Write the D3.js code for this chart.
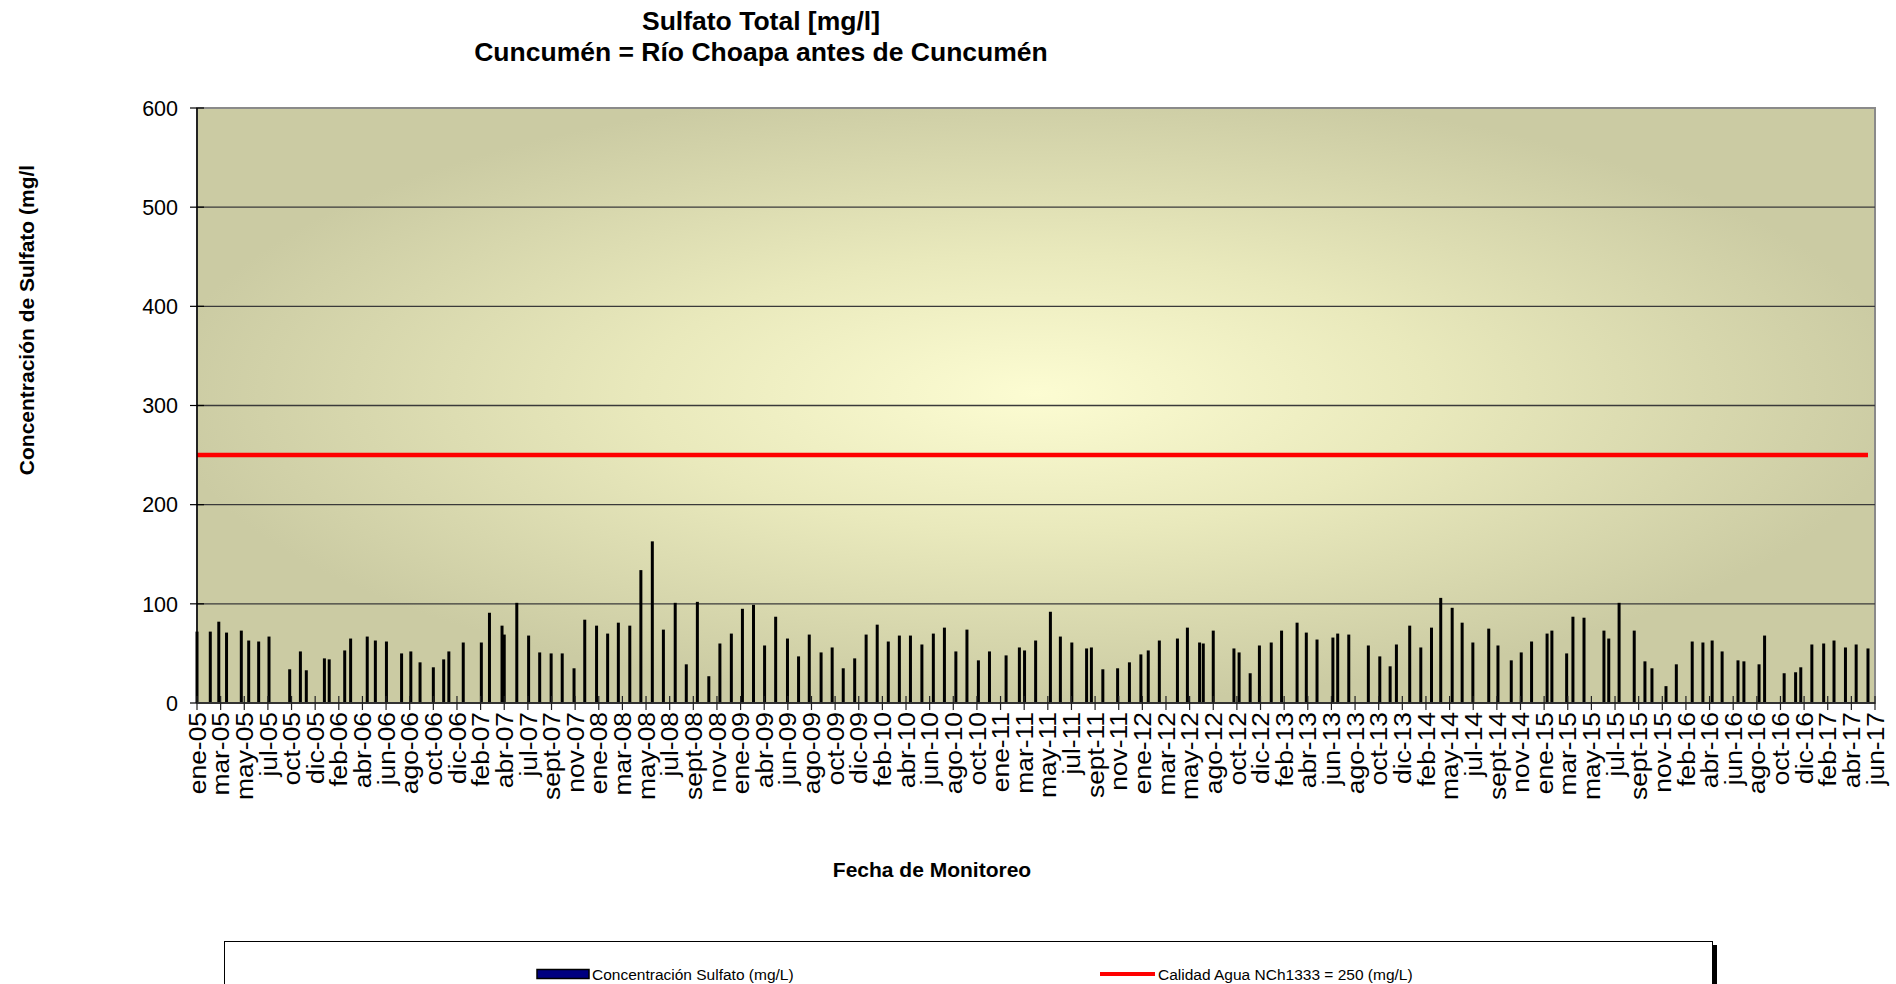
<!DOCTYPE html>
<html lang="es">
<head>
  <meta charset="UTF-8" />
  <title>Sulfato Total - Cuncumén</title>
  <script src="https://d3js.org/d3.v7.min.js"></script>
  <style>
    html, body {
      margin: 0;
      background: #fff;
      font-family: "Liberation Sans", Arial, sans-serif;
    }
    svg { display: block; }
    .grid line { stroke: #3a3a3a; stroke-width: 1.3px; }
    .bar { fill: #000; }
    .tick-label { font-size: 21.5px; fill: #000; }
    .x-label { font-size: 24px; fill: #000; }
    .axis-title { font-size: 21px; font-weight: bold; fill: #000; }
    .title { font-size: 26.5px; font-weight: bold; fill: #000; }
    .legend-text { font-size: 15.5px; fill: #000; }
  </style>
</head>
<body>
  <svg id="chart" width="1896" height="984"></svg>

  <script>
    // ----- data -----
    const sampleDates = [
      '2005-01-18','2005-02-23','2005-03-18','2005-04-08','2005-05-18','2005-06-07','2005-07-04','2005-08-01',
      '2005-09-26','2005-10-25','2005-11-10','2005-12-29','2006-01-11','2006-02-22','2006-03-10','2006-04-24',
      '2006-05-16','2006-06-15','2006-07-26','2006-08-20','2006-09-14','2006-10-20','2006-11-17','2006-12-01',
      '2007-01-09','2007-02-27','2007-03-21','2007-04-24','2007-04-30','2007-06-03','2007-07-05','2007-08-04',
      '2007-09-04','2007-10-04','2007-11-05','2007-12-04','2008-01-05','2008-02-04','2008-03-04','2008-04-04',
      '2008-05-04','2008-06-04','2008-07-04','2008-08-05','2008-09-04','2008-10-04','2008-11-04','2008-12-04',
      '2009-01-04','2009-02-03','2009-03-05','2009-04-04','2009-05-04','2009-06-05','2009-07-05','2009-08-03',
      '2009-09-04','2009-10-04','2009-11-03','2009-12-04','2010-01-04','2010-02-03','2010-03-05','2010-04-04',
      '2010-05-04','2010-06-04','2010-07-05','2010-08-04','2010-09-04','2010-10-04','2010-11-04','2010-12-04',
      '2011-01-18','2011-02-23','2011-03-09','2011-04-08','2011-05-18','2011-06-14','2011-07-15','2011-08-24',
      '2011-09-06','2011-10-07','2011-11-16','2011-12-18','2012-01-18','2012-02-07','2012-03-08','2012-04-26',
      '2012-05-23','2012-06-25','2012-07-05','2012-08-01','2012-09-26','2012-10-10','2012-11-09','2012-12-04',
      '2013-01-05','2013-02-02','2013-03-16','2013-04-10','2013-05-09','2013-06-21','2013-07-04','2013-08-03',
      '2013-09-25','2013-10-26','2013-11-23','2013-12-10','2014-01-15','2014-02-14','2014-03-15','2014-04-09',
      '2014-05-10','2014-06-06','2014-07-05','2014-08-17','2014-09-11','2014-10-17','2014-11-13','2014-12-11',
      '2015-01-22','2015-02-04','2015-03-16','2015-04-02','2015-05-02','2015-06-25','2015-07-08','2015-08-05',
      '2015-09-15','2015-10-14','2015-11-02','2015-12-10','2016-01-07','2016-02-19','2016-03-19','2016-04-13',
      '2016-05-10','2016-06-22','2016-07-08','2016-08-18','2016-09-02','2016-10-25','2016-11-25','2016-12-09',
      '2017-01-08','2017-02-09','2017-03-09','2017-04-09','2017-05-08','2017-06-09'
    ];

    const sulfato = [
      72, 72, 82, 71, 73, 63, 62, 67,
      34, 52, 33, 45, 44, 53, 65, 67,
      63, 62, 50, 52, 41, 36, 44, 52,
      61, 61, 91, 78, 69, 101, 68, 51,
      50, 50, 35, 84, 78, 70, 81, 78,
      134, 163, 74, 101, 39, 102, 27, 60,
      70, 95, 99, 58, 87, 65, 47, 69,
      51, 56, 35, 45, 69, 79, 62, 68,
      68, 59, 70, 76, 52, 74, 43, 52,
      48, 56, 53, 63, 92, 67, 61, 55,
      56, 34, 35, 41, 49, 53, 63, 65,
      76, 61, 60, 73, 55, 51, 30, 58,
      61, 73, 81, 71, 64, 66, 70, 69,
      58, 47, 37, 59, 78, 56, 76, 106,
      96, 81, 61, 75, 58, 43, 51, 62,
      70, 73, 50, 87, 86, 73, 65, 101,
      73, 42, 35, 17, 39, 62, 61, 63,
      52, 43, 42, 39, 68, 30, 31, 36,
      59, 60, 63, 56, 59, 55
    ];

    const limitValue = 250;   // NCh1333

    const axisStart = '2005-01-18';
    const axisEnd   = '2017-06-28';

    const xTickLabels = [
      'ene-05','mar-05','may-05','jul-05','oct-05','dic-05','feb-06','abr-06','jun-06','ago-06','oct-06','dic-06',
      'feb-07','abr-07','jul-07','sept-07','nov-07','ene-08','mar-08','may-08','jul-08','sept-08','nov-08','ene-09',
      'abr-09','jun-09','ago-09','oct-09','dic-09','feb-10','abr-10','jun-10','ago-10','oct-10','ene-11','mar-11',
      'may-11','jul-11','sept-11','nov-11','ene-12','mar-12','may-12','ago-12','oct-12','dic-12','feb-13','abr-13',
      'jun-13','ago-13','oct-13','dic-13','feb-14','may-14','jul-14','sept-14','nov-14','ene-15','mar-15','may-15',
      'jul-15','sept-15','nov-15','feb-16','abr-16','jun-16','ago-16','oct-16','dic-16','feb-17','abr-17','jun-17'
    ];

    const yTicks = [0, 100, 200, 300, 400, 500, 600];

    // ----- layout -----
    const svg = d3.select('#chart');
    const margin = {left: 197, top: 108, right: 21, bottom: 281};
    const W = 1896 - margin.left - margin.right;
    const H = 984 - margin.top - margin.bottom;

    const parse = d3.utcParse('%Y-%m-%d');
    const rows = sampleDates.map((d, i) => ({date: parse(d), value: sulfato[i]}));

    const x = d3.scaleUtc().domain([parse(axisStart), parse(axisEnd)]).range([0, W]);
    const y = d3.scaleLinear().domain([0, 600]).range([H, 0]);
    const xLab = d3.scalePoint().domain(xTickLabels).range([0, W]);

    // background gradient (light centre, khaki edges)
    const defs = svg.append('defs');
    const grad = defs.append('radialGradient')
      .attr('id', 'plotBg')
      .attr('cx', '50%').attr('cy', '48%').attr('r', '52%');
    grad.append('stop').attr('offset', '0%').attr('stop-color', '#fcfcd2');
    grad.append('stop').attr('offset', '45%').attr('stop-color', '#e9e9bc');
    grad.append('stop').attr('offset', '100%').attr('stop-color', '#cbcba3');

    const g = svg.append('g').attr('transform', `translate(${margin.left},${margin.top})`);

    g.append('rect')
      .attr('width', W).attr('height', H)
      .attr('fill', 'url(#plotBg)')
      .attr('stroke', '#8a8a8a').attr('stroke-width', 2);

    // gridlines
    g.append('g').attr('class', 'grid')
      .selectAll('line')
      .data(yTicks.filter(v => v > 0 && v < 600))
      .enter().append('line')
        .attr('x1', 0).attr('x2', W)
        .attr('y1', d => y(d)).attr('y2', d => y(d));

    // bars
    g.append('g')
      .selectAll('rect')
      .data(rows)
      .enter().append('rect')
        .attr('class', 'bar')
        .attr('x', d => x(d.date) - 1.5)
        .attr('width', 3)
        .attr('y', d => y(d.value))
        .attr('height', d => H - y(d.value));

    // limit line
    const limitLine = d3.line()
      .x(d => x(d.date))
      .y(() => y(limitValue));
    g.append('path')
      .datum(rows)
      .attr('d', limitLine)
      .attr('fill', 'none')
      .attr('stroke', '#ff0000')
      .attr('stroke-width', 4.5);

    // y axis
    const yAxis = g.append('g');
    yAxis.append('line')
      .attr('x1', 0).attr('x2', 0).attr('y1', 0).attr('y2', H)
      .attr('stroke', '#000').attr('stroke-width', 1.5);
    yAxis.selectAll('line.tk')
      .data(yTicks)
      .enter().append('line')
        .attr('class', 'tk')
        .attr('x1', -7).attr('x2', 7)
        .attr('y1', d => y(d)).attr('y2', d => y(d))
        .attr('stroke', '#000').attr('stroke-width', 1.2);
    yAxis.selectAll('text')
      .data(yTicks)
      .enter().append('text')
        .attr('class', 'tick-label')
        .attr('x', -19)
        .attr('y', d => y(d))
        .attr('dy', '0.36em')
        .attr('text-anchor', 'end')
        .text(d => d);

    // x axis
    const xAxis = g.append('g').attr('transform', `translate(0,${H})`);
    xAxis.append('line')
      .attr('x1', 0).attr('x2', W)
      .attr('stroke', '#333').attr('stroke-width', 2);
    xAxis.selectAll('line.tk')
      .data(xTickLabels)
      .enter().append('line')
        .attr('class', 'tk')
        .attr('x1', d => xLab(d)).attr('x2', d => xLab(d))
        .attr('y1', -7).attr('y2', 7)
        .attr('stroke', '#222').attr('stroke-width', 1.2);
    xAxis.selectAll('text')
      .data(xTickLabels)
      .enter().append('text')
        .attr('class', 'x-label')
        .attr('text-anchor', 'end')
        .attr('transform', d => `translate(${xLab(d)},9) rotate(-90) scale(1.1,1)`)
        .attr('dy', '0.36em')
        .text(d => d);

    // titles
    svg.append('text').attr('class', 'title')
      .attr('x', 761).attr('y', 30).attr('text-anchor', 'middle')
      .text('Sulfato Total [mg/l]');
    svg.append('text').attr('class', 'title')
      .attr('x', 761).attr('y', 61).attr('text-anchor', 'middle')
      .text('Cuncumén = Río Choapa antes de Cuncumén');

    svg.append('text').attr('class', 'axis-title')
      .attr('x', 932).attr('y', 877).attr('text-anchor', 'middle')
      .text('Fecha de Monitoreo');

    svg.append('text').attr('class', 'axis-title')
      .attr('transform', 'translate(34,320) rotate(-90)')
      .attr('text-anchor', 'middle')
      .text('Concentración de Sulfato (mg/l');

    // legend
    const leg = svg.append('g');
    leg.append('rect')
      .attr('x', 1712).attr('y', 945).attr('width', 5).attr('height', 60)
      .attr('fill', '#000');
    leg.append('rect')
      .attr('x', 224.5).attr('y', 941.5).attr('width', 1488).attr('height', 60)
      .attr('fill', '#fff').attr('stroke', '#000').attr('stroke-width', 1);
    leg.append('rect')
      .attr('x', 537).attr('y', 969.5).attr('width', 52).attr('height', 9)
      .attr('fill', '#000080').attr('stroke', '#000').attr('stroke-width', 1.5);
    leg.append('text').attr('class', 'legend-text')
      .attr('x', 592).attr('y', 974).attr('dy', '0.36em')
      .text('Concentración Sulfato (mg/L)');
    leg.append('line')
      .attr('x1', 1100).attr('x2', 1155).attr('y1', 974).attr('y2', 974)
      .attr('stroke', '#ff0000').attr('stroke-width', 4);
    leg.append('text').attr('class', 'legend-text')
      .attr('x', 1158).attr('y', 974).attr('dy', '0.36em')
      .text('Calidad Agua NCh1333 = 250 (mg/L)');
  </script>
</body>
</html>
